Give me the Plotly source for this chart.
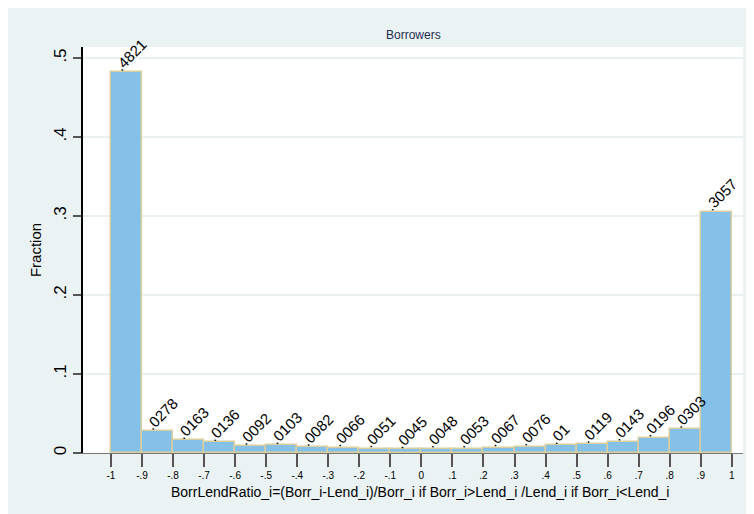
import plotly.graph_objects as go

# Data: histogram bins (left edges, width 0.1) and fractions
bin_left = [-1.0, -0.9, -0.8, -0.7, -0.6, -0.5, -0.4, -0.3, -0.2, -0.1,
            0.0, 0.1, 0.2, 0.3, 0.4, 0.5, 0.6, 0.7, 0.8, 0.9]
fractions = [0.4821, 0.0278, 0.0163, 0.0136, 0.0092, 0.0103, 0.0082, 0.0066, 0.0051, 0.0045,
             0.0048, 0.0053, 0.0067, 0.0076, 0.0100, 0.0119, 0.0143, 0.0196, 0.0303, 0.3057]
bar_labels = [".4821", ".0278", ".0163", ".0136", ".0092", ".0103", ".0082", ".0066", ".0051", ".0045",
              ".0048", ".0053", ".0067", ".0076", ".01", ".0119", ".0143", ".0196", ".0303", ".3057"]
x_tickvals = [-1, -0.9, -0.8, -0.7, -0.6, -0.5, -0.4, -0.3, -0.2, -0.1, 0,
              0.1, 0.2, 0.3, 0.4, 0.5, 0.6, 0.7, 0.8, 0.9, 1]
x_ticktext = ["-1", "-.9", "-.8", "-.7", "-.6", "-.5", "-.4", "-.3", "-.2", "-.1", "0",
              ".1", ".2", ".3", ".4", ".5", ".6", ".7", ".8", ".9", "1"]
y_tickvals = [0, 0.1, 0.2, 0.3, 0.4, 0.5]
y_ticktext = ["0", ".1", ".2", ".3", ".4", ".5"]

BG = "#EAF2F3"
FONT = "Liberation Sans, Arial, sans-serif"

fig = go.Figure()
fig.add_trace(go.Bar(
    x=bin_left, y=fractions, width=0.1, offset=0,
    marker=dict(color="#85C0E9", line=dict(color="#D8CE9E", width=1.5)),
    hoverinfo="x+y", showlegend=False,
))

for xl, v, lab in zip(bin_left, fractions, bar_labels):
    fig.add_annotation(
        x=xl, y=v, xref="x", yref="y", text=lab, showarrow=False,
        xanchor="left", yanchor="bottom", textangle=-45,
        font=dict(family=FONT, size=15, color="black"),
        xshift=-2, yshift=-5,
    )

# Subtitle and axis title
fig.add_annotation(x=0.5, y=1.0, xref="paper", yref="paper", yshift=3,
                   text="Borrowers", showarrow=False, xanchor="center", yanchor="bottom",
                   font=dict(family=FONT, size=12, color="#1E2D4F"))
fig.add_annotation(x=0.51, y=0, xref="paper", yref="paper", yshift=-29,
                   text="BorrLendRatio_i=(Borr_i-Lend_i)/Borr_i if Borr_i>Lend_i /Lend_i if Borr_i<Lend_i",
                   showarrow=False, xanchor="center", yanchor="top",
                   font=dict(family=FONT, size=14, color="black"))

fig.update_layout(
    width=746, height=506,
    margin=dict(l=75, r=11, t=39, b=61),
    paper_bgcolor=BG, plot_bgcolor="white",
    bargap=0,
    font=dict(family=FONT, color="black"),
    xaxis=dict(
        range=[-1.09, 1.036], tickvals=x_tickvals, ticktext=x_ticktext,
        ticks="outside", ticklen=13, tickcolor="#555555", tickwidth=1.5,
        tickfont=dict(size=10, color="black"),
        showline=True, linecolor="#777777", linewidth=1,
        showgrid=False, zeroline=False, automargin=False,
    ),
    yaxis=dict(
        range=[0, 0.514], tickvals=y_tickvals, ticktext=y_ticktext,
        ticks="outside", ticklen=8, tickcolor="#555555", tickwidth=1.5,
        tickangle=-90, tickfont=dict(size=17, color="black"),
        showline=True, linecolor="black", linewidth=1.5,
        showgrid=True, gridcolor="#E8F0F2", gridwidth=1.5, zeroline=False,
        title=dict(text="Fraction", font=dict(size=15, color="black"), standoff=6),
        automargin=False,
    ),
)

fig.write_html("out.html", post_script="document.body.style.overflow='hidden';")
